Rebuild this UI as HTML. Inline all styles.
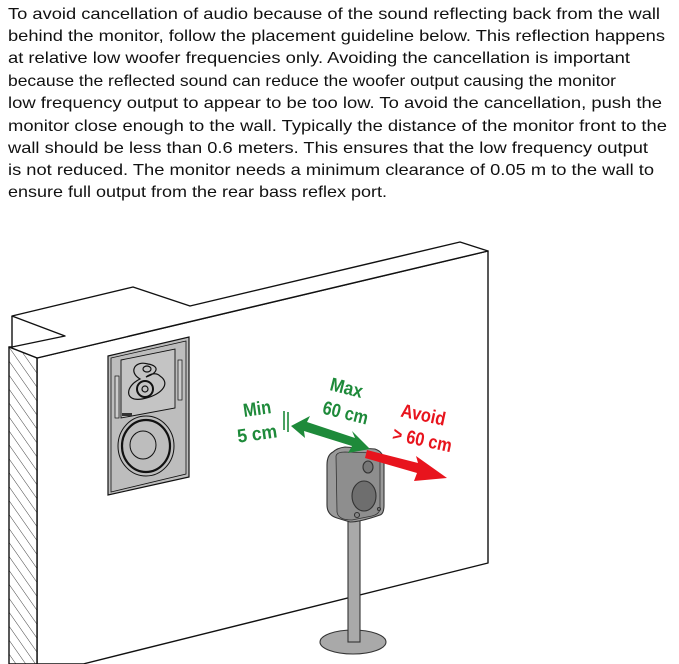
<!DOCTYPE html>
<html><head><meta charset="utf-8"><style>
html,body{margin:0;padding:0;background:#fff;width:679px;height:664px;overflow:hidden}
svg{display:block}
.t{font-family:"Liberation Sans",sans-serif;font-size:16px;fill:#111}
.l{font-family:"Liberation Sans",sans-serif;font-weight:bold;font-size:19px}
</style></head><body>
<svg width="679" height="664" viewBox="0 0 679 664" xmlns="http://www.w3.org/2000/svg">
<defs>
<pattern id="h" width="8" height="8" patternUnits="userSpaceOnUse" patternTransform="rotate(-35)">
<rect width="8" height="8" fill="#fff"/><line x1="0" y1="0" x2="0" y2="8" stroke="#444" stroke-width="1"/>
</pattern>
</defs>
<g class="t">
<text x="8" y="19" textLength="652" lengthAdjust="spacingAndGlyphs">To avoid cancellation of audio because of the sound reflecting back from the wall</text>
<text x="8" y="41" textLength="657" lengthAdjust="spacingAndGlyphs">behind the monitor, follow the placement guideline below. This reflection happens</text>
<text x="8" y="63" textLength="622" lengthAdjust="spacingAndGlyphs">at relative low woofer frequencies only. Avoiding the cancellation is important</text>
<text x="8" y="86" textLength="608" lengthAdjust="spacingAndGlyphs">because the reflected sound can reduce the woofer output causing the monitor</text>
<text x="8" y="108" textLength="654" lengthAdjust="spacingAndGlyphs">low frequency output to appear to be too low. To avoid the cancellation, push the</text>
<text x="8" y="131" textLength="659" lengthAdjust="spacingAndGlyphs">monitor close enough to the wall. Typically the distance of the monitor front to the</text>
<text x="8" y="153" textLength="640" lengthAdjust="spacingAndGlyphs">wall should be less than 0.6 meters. This ensures that the low frequency output</text>
<text x="8" y="175" textLength="646" lengthAdjust="spacingAndGlyphs">is not reduced. The monitor needs a minimum clearance of 0.05 m to the wall to</text>
<text x="8" y="197" textLength="379" lengthAdjust="spacingAndGlyphs">ensure full output from the rear bass reflex port.</text>
</g>
<g fill="none" stroke="#111" stroke-width="1.4" stroke-linejoin="round">
<path d="M37,358 L488,251 L488,563 L83,664 L37,664 Z" fill="#fff"/>
<path d="M12,316 L133,287 L190,306 L460,242 L488,251 L37,358 L9,347 L12,347 L65,336 L12,316 Z" fill="#fff"/>
<path d="M12,316 L12,347"/>
<path d="M9,347 L37,358 L37,664 L9,664 Z" fill="url(#h)"/>
</g>
<g stroke="#111" stroke-width="1.2">
<path d="M108,356 L189,337 L189,477 L108,495 Z" fill="#bdbdbd"/>
<path d="M111,358 L186,341 L186,474 L111,492 Z" fill="none" stroke-width="0.8"/>
<path d="M121,360 L175,349 L175,408 L121,418 Z" fill="#c4c4c4" stroke-width="0.9"/>
<rect x="115" y="376" width="4" height="42" fill="#ccc" stroke-width="0.7"/>
<rect x="178" y="360" width="4" height="40" fill="#ccc" stroke-width="0.7"/>
<path d="M148,364 C135,360 128,372 140,379 C125,386 124,402 142,399 C160,396 172,384 160,376 C156,372 150,374 146,377 C158,373 160,366 148,364 Z" fill="none"/>
<ellipse cx="147" cy="369" rx="4" ry="3" fill="none"/>
<circle cx="145" cy="389" r="8" fill="none" stroke-width="2"/>
<circle cx="145" cy="389" r="3" fill="none"/>
<ellipse cx="146" cy="446" rx="28" ry="30" fill="none" stroke-width="1"/>
<ellipse cx="146" cy="446" rx="24" ry="26" fill="none" stroke-width="2.2"/>
<ellipse cx="143" cy="445" rx="13" ry="14" fill="none" stroke-width="1"/>
<rect x="122" y="413" width="10" height="3" fill="#333" stroke="none"/>
</g>
<g stroke="#333" stroke-width="1.1">
<ellipse cx="353" cy="642" rx="33" ry="12" fill="#a9a9a9"/>
<rect x="348" y="518" width="12" height="124" fill="#a9a9a9"/>
<path d="M333,452 Q327,455 327,465 L327,505 Q327,515 337,518 L350,522 Q360,522 380,515 Q384,514 384,505 L384,462 Q384,452 375,449 L345,447 Q337,448 333,452 Z" fill="#9a9a9a"/>
<path d="M336,456 Q337,452 345,452 L375,453 Q380,454 380,462 L380,508 Q380,514 372,516 L352,520 Q338,520 337,512 Z" fill="#8e8e8e" stroke-width="0.8"/>
<ellipse cx="368" cy="467" rx="5" ry="6" fill="#777"/>
<ellipse cx="364" cy="496" rx="12" ry="15" fill="#6e6e6e"/>
<circle cx="357" cy="515" r="2.5" fill="#888"/>
<circle cx="379" cy="509" r="1.5" fill="#888"/>
</g>
<g>
<line x1="284" y1="411" x2="284" y2="430" stroke="#1e8a3a" stroke-width="1.6"/>
<line x1="288" y1="412" x2="288" y2="432" stroke="#1e8a3a" stroke-width="1.6"/>
<path d="M291,426 L310,416 L307,422 L355,438 L352,431 L370,449 L348,453 L352,446 L304,431 L305,438 Z" fill="#1e8a3a"/>
<path d="M367,450 L418,463 L416,456 L447,478 L414,481 L417,473 L365,458 Z" fill="#e8141d"/>
</g>
<g class="l">
<text x="258" y="415" fill="#1e8a3a" text-anchor="middle" textLength="28" lengthAdjust="spacingAndGlyphs" transform="rotate(-8 258 415)">Min</text>
<text x="258" y="440" fill="#1e8a3a" text-anchor="middle" textLength="40" lengthAdjust="spacingAndGlyphs" transform="rotate(-8 258 440)">5 cm</text>
<text x="345" y="394" fill="#1e8a3a" text-anchor="middle" textLength="33" lengthAdjust="spacingAndGlyphs" transform="rotate(14 345 394)">Max</text>
<text x="344" y="419" fill="#1e8a3a" text-anchor="middle" textLength="46" lengthAdjust="spacingAndGlyphs" transform="rotate(14 344 419)">60 cm</text>
<text x="422" y="421" fill="#e8141d" text-anchor="middle" textLength="45" lengthAdjust="spacingAndGlyphs" transform="rotate(12 422 421)">Avoid</text>
<text x="421" y="446" fill="#e8141d" text-anchor="middle" textLength="60" lengthAdjust="spacingAndGlyphs" transform="rotate(12 421 446)">&gt; 60 cm</text>
</g>
</svg>
</body></html>
